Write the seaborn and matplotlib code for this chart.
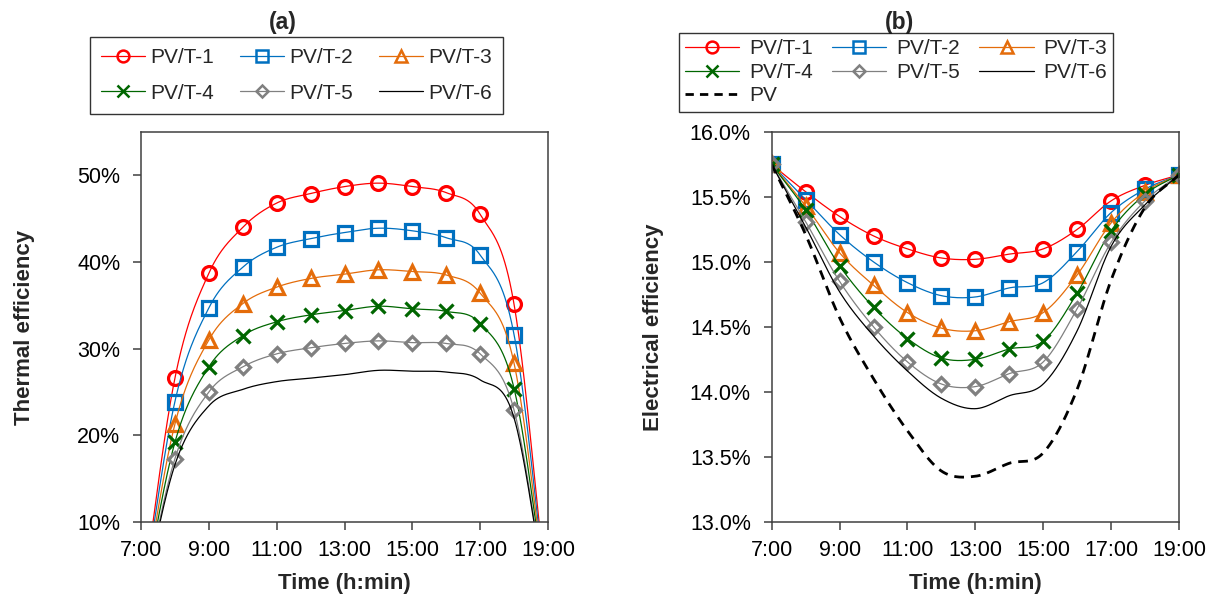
import numpy as np
import pandas as pd
import matplotlib
matplotlib.use("Agg")
import matplotlib.pyplot as plt
from matplotlib.lines import Line2D
import seaborn as sns

# ---------------- data ----------------
hours_a = [7, 8, 9, 10, 11, 12, 13, 14, 15, 16, 17, 18, 19]
thermal_1 = [0, 26.6, 38.7, 44.0, 46.8, 47.9, 48.7, 49.1, 48.7, 48.0, 45.5, 35.1, 0]
thermal_2 = [0, 23.9, 34.7, 39.4, 41.7, 42.7, 43.4, 43.9, 43.6, 42.8, 40.8, 31.6, 0]
thermal_3 = [0, 21.3, 31.0, 35.2, 37.1, 38.1, 38.6, 39.1, 38.9, 38.5, 36.4, 28.3, 0]
thermal_4 = [0, 19.2, 27.9, 31.5, 33.1, 33.9, 34.4, 34.9, 34.6, 34.3, 32.9, 25.4, 0]
thermal_5 = [0, 17.3, 25.0, 27.9, 29.4, 30.1, 30.6, 30.9, 30.7, 30.6, 29.4, 22.9, 0]
thermal_6 = [0, 16.6, 23.4, 25.3, 26.2, 26.6, 27.0, 27.5, 27.4, 27.3, 26.4, 22.0, 0]

hours_b = [7, 8, 9, 10, 11, 12, 13, 14, 15, 16, 17, 18, 19]
elec_1 = [15.75, 15.54, 15.35, 15.20, 15.10, 15.03, 15.02, 15.06, 15.10, 15.25, 15.47, 15.59, 15.67]
elec_2 = [15.75, 15.48, 15.21, 15.00, 14.84, 14.74, 14.73, 14.80, 14.84, 15.08, 15.38, 15.56, 15.67]
elec_3 = [15.75, 15.43, 15.07, 14.82, 14.61, 14.49, 14.47, 14.54, 14.61, 14.90, 15.30, 15.54, 15.67]
elec_4 = [15.75, 15.40, 14.97, 14.65, 14.41, 14.26, 14.25, 14.33, 14.39, 14.76, 15.24, 15.52, 15.67]
elec_5 = [15.75, 15.31, 14.85, 14.50, 14.23, 14.06, 14.04, 14.14, 14.23, 14.64, 15.15, 15.47, 15.67]
elec_6 = [15.75, 15.27, 14.77, 14.43, 14.16, 13.95, 13.87, 13.97, 14.06, 14.47, 15.12, 15.44, 15.67]
elec_pv = [15.75, 15.21, 14.57, 14.10, 13.70, 13.39, 13.35, 13.45, 13.53, 14.02, 14.86, 15.42, 15.67]

series_names = ["PV/T-1", "PV/T-2", "PV/T-3", "PV/T-4", "PV/T-5", "PV/T-6"]
x_tick_hours = [7, 9, 11, 13, 15, 17, 19]
x_tick_labels = ["7:00", "9:00", "11:00", "13:00", "15:00", "17:00", "19:00"]
y_ticks_a = [10, 20, 30, 40, 50]
y_ticks_b = [13.0, 13.5, 14.0, 14.5, 15.0, 15.5, 16.0]

# ---------------- styles ----------------
colors = ["#FF0000", "#0070C0", "#E46C0A", "#006600", "#808080", "#000000"]
markers = ["o", "s", "^", "x", "D", None]
msizes = [10, 10, 10, 10, 7.5, 0]


def smooth(x, y, n=40):
    """Excel-like smoothing (Catmull-Rom / cubic Hermite) through the data."""
    P = np.column_stack([np.asarray(x, float), np.asarray(y, float)])
    ext = np.vstack([2 * P[0] - P[1], P, 2 * P[-1] - P[-2]])
    pts = []
    t = np.linspace(0, 1, n, endpoint=False)[:, None]
    h00 = 2 * t**3 - 3 * t**2 + 1
    h10 = t**3 - 2 * t**2 + t
    h01 = -2 * t**3 + 3 * t**2
    h11 = t**3 - t**2
    for i in range(len(P) - 1):
        p0, p1, p2, p3 = ext[i], ext[i + 1], ext[i + 2], ext[i + 3]
        m1 = (p2 - p0) / 2
        m2 = (p3 - p1) / 2
        pts.append(h00 * p1 + h10 * m1 + h01 * p2 + h11 * m2)
    pts.append(P[-1:])
    S = np.vstack(pts)
    return S[:, 0], S[:, 1]


sns.set_theme(style="ticks")
plt.rcParams["font.family"] = ["Liberation Sans", "DejaVu Sans"]
plt.rcParams["axes.linewidth"] = 1.1

fig = plt.figure(figsize=(12.21, 6.02), dpi=100)
ax1 = fig.add_axes([141 / 1221, 1 - 522 / 602, 407 / 1221, 390 / 602])
ax2 = fig.add_axes([771.7 / 1221, 1 - 521.7 / 602, 407.3 / 1221, 389.7 / 602])


def draw(ax, hours, data_list, lw=0.9):
    handles = []
    for vals, name, c, m, ms in zip(data_list, series_names, colors, markers, msizes):
        sx, sy = smooth(hours, vals)
        df = pd.DataFrame({"x": sx, "y": sy})
        sns.lineplot(data=df, x="x", y="y", ax=ax, color=c, linewidth=lw,
                     sort=False, estimator=None, legend=False)
        if m is not None:
            dm = pd.DataFrame({"x": hours, "y": vals})
            sns.lineplot(data=dm, x="x", y="y", ax=ax, color=c, linestyle="",
                         marker=m, markersize=ms, markerfacecolor="none",
                         markeredgecolor=c, markeredgewidth=2.3,
                         estimator=None, legend=False)
        handles.append(Line2D([], [], color=c, lw=lw, marker=m if m else "None",
                              markersize=ms * 0.85, markerfacecolor="none",
                              markeredgecolor=c, markeredgewidth=1.8, label=name))
    return handles


thermal = [thermal_1, thermal_2, thermal_3, thermal_4, thermal_5, thermal_6]
elec = [elec_1, elec_2, elec_3, elec_4, elec_5, elec_6]

h1 = draw(ax1, hours_a, thermal)
h2 = draw(ax2, hours_b, elec)

# PV dashed
sx, sy = smooth(hours_b, elec_pv)
sns.lineplot(data=pd.DataFrame({"x": sx, "y": sy}), x="x", y="y", ax=ax2,
             color="black", linewidth=2.0, linestyle=(0, (3.5, 2.5)),
             sort=False, estimator=None, legend=False)
h_pv = Line2D([], [], color="black", lw=2.0, linestyle=(0, (3.0, 2.2)), label="PV")

tick_fs = 15.5
for ax in (ax1, ax2):
    ax.set_xlim(7, 19)
    ax.set_xticks(x_tick_hours)
    ax.set_xticklabels(x_tick_labels)
    ax.tick_params(axis="both", direction="out", length=6, width=1.1,
                   labelsize=tick_fs, colors="#404040", labelcolor="black")
    ax.tick_params(axis="y", pad=9)
    ax.tick_params(axis="x", pad=7)
    for sp in ax.spines.values():
        sp.set_visible(True)
        sp.set_color("#404040")
        sp.set_linewidth(1.1)
    ax.grid(False)

ax1.set_ylim(10, 55)
ax1.set_yticks(y_ticks_a)
ax1.set_yticklabels([f"{v:.0f}%" for v in y_ticks_a])
ax2.set_ylim(13.0, 16.0)
ax2.set_yticks(y_ticks_b)
ax2.set_yticklabels([f"{v:.1f}%" for v in y_ticks_b])

lab_fs = 16
ax1.set_xlabel("Time (h:min)", fontsize=lab_fs, fontweight="bold", va="center")
ax2.set_xlabel("Time (h:min)", fontsize=lab_fs, fontweight="bold", va="center")
ax1.set_ylabel("Thermal efficiency", fontsize=lab_fs, fontweight="bold", va="center")
ax2.set_ylabel("Electrical efficiency", fontsize=lab_fs, fontweight="bold", va="center")
ax1.xaxis.set_label_coords(0.5, (522 - 583) / 390)
ax2.xaxis.set_label_coords(0.5, (521.7 - 583) / 389.7)
ax1.yaxis.set_label_coords((25 - 141) / 407, 0.5)
ax2.yaxis.set_label_coords((653 - 771.7) / 407.3, 0.5)

fig.text(283 / 1221, 1 - 22 / 602, "(a)", fontsize=16.5, fontweight="bold",
         ha="center", va="center")
fig.text(900 / 1221, 1 - 22 / 602, "(b)", fontsize=16.5, fontweight="bold",
         ha="center", va="center")

leg_fs = 15
order1 = [h1[0], h1[3], h1[1], h1[4], h1[2], h1[5]]
leg1 = fig.legend(handles=order1, loc="upper left",
                  bbox_to_anchor=(90 / 1221, 1 - 37 / 602), ncol=3,
                  fontsize=leg_fs, frameon=True, fancybox=False, edgecolor="black",
                  handlelength=2.1, handletextpad=0.25, columnspacing=1.25,
                  labelspacing=0.78, borderpad=0.55, borderaxespad=0)
leg1.get_frame().set_linewidth(1.0)

order2 = [h2[0], h2[3], h_pv, h2[1], h2[4], h2[2], h2[5]]
leg2 = fig.legend(handles=order2, loc="upper left",
                  bbox_to_anchor=(679 / 1221, 1 - 33 / 602), ncol=3,
                  fontsize=leg_fs, frameon=True, fancybox=False, edgecolor="black",
                  handlelength=2.6, handletextpad=0.45, columnspacing=0.95,
                  labelspacing=0.22, borderpad=0.3, borderaxespad=0)
leg2.get_frame().set_linewidth(1.0)

fig.savefig("out.png", dpi=100, facecolor="white")
